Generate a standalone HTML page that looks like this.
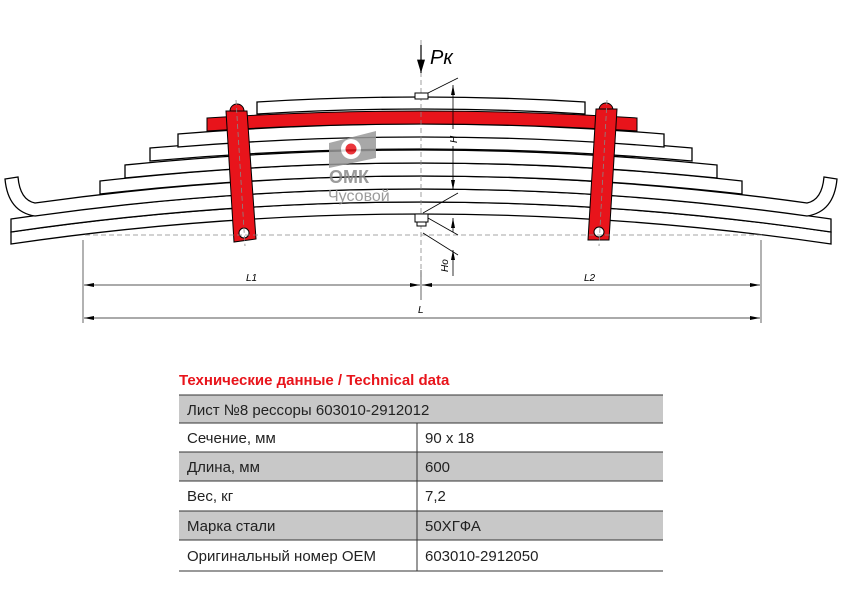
<!DOCTYPE html>
<html><head><meta charset="utf-8"><style>
html,body{margin:0;padding:0;background:#fff;width:842px;height:595px;overflow:hidden}
svg{position:absolute;left:0;top:0}
.t{font-family:"Liberation Sans",sans-serif}
</style></head><body>
<svg width="842" height="595" viewBox="0 0 842 595" xmlns="http://www.w3.org/2000/svg">
<defs>
<marker id="a" viewBox="0 0 10 4" refX="10" refY="2" markerWidth="10" markerHeight="4" markerUnits="userSpaceOnUse" orient="auto-start-reverse"><path d="M0,0 L10,2 L0,4 z" fill="#000"/></marker>
<marker id="b" viewBox="0 0 10 6" refX="10" refY="3" markerWidth="14" markerHeight="8" markerUnits="userSpaceOnUse" orient="auto"><path d="M0,0 L10,3 L0,6 z" fill="#000"/></marker>
</defs>
<g fill="#fff" stroke="#000" stroke-width="1.3">
<path d="M11,232 Q421,172 831,232 L831,244 Q421,184 11,244 Z"/>
<path d="M11,219 Q421,159 831,219 L831,232 Q421,172 11,232 Z"/>
<path d="M35,203 Q421,149 807,203 Q822,200 824,177 L837,179 Q834,212 807,216 Q421,162 35,216 Q8,212 5,179 L18,177 Q20,200 35,203 Z"/>
<path d="M100,181 Q421,145 742,181 L742,194 Q421,158 100,194 Z"/>
<path d="M125,165 Q421,135 717,165 L717,178 Q421,148 125,178 Z"/>
<path d="M150,148 Q421,124 692,148 L692,161 Q421,137 150,161 Z"/>
<path d="M178,134 Q421,114 664,134 L664,147 Q421,127 178,147 Z"/>
<path d="M257,102 Q421,92 585,102 L585,114 Q421,104 257,114 Z"/>
</g>
<path d="M207,118 Q421,104 637,118 L637,131 Q421,117 207,131 Z" fill="#e8141b" stroke="#000" stroke-width="1"/>
<g opacity="0.85">
<path d="M329,143 L376,131 L376,158 L329,168 Z" fill="#9a9a9a"/>
<circle cx="351" cy="149" r="10" fill="#fff"/>
<circle cx="351" cy="149" r="5.5" fill="#e8141b"/>
<text x="329" y="183" class="t" font-size="18" font-weight="bold" fill="#8a8a8a">ОМК</text>
<text x="328" y="201" class="t" font-size="16" fill="#8a8a8a">Чусовой</text>
</g>
<g stroke="#000" stroke-width="1">
<circle cx="237" cy="111" r="7" fill="#e8141b"/>
<path d="M226,111 L247,111 L256,239 L234,242 Z" fill="#e8141b"/>
<circle cx="244" cy="233" r="5" fill="#fff"/>
<circle cx="606" cy="110" r="7" fill="#e8141b"/>
<path d="M596,109 L617,109 L609,240 L588,240 Z" fill="#e8141b"/>
<circle cx="599" cy="232" r="5" fill="#fff"/>
</g>
<g stroke="#888" stroke-width="0.8" stroke-dasharray="5,3" fill="none">
<line x1="236" y1="100" x2="245" y2="246"/>
<line x1="607" y1="100" x2="599" y2="246"/>
<line x1="85" y1="235" x2="762" y2="235"/>
<line x1="421" y1="40" x2="421" y2="285"/>
</g>
<rect x="415" y="93" width="13" height="6" fill="#fff" stroke="#000"/>
<rect x="415" y="214" width="13" height="8" fill="#fff" stroke="#000"/>
<rect x="417" y="222" width="9" height="4" fill="#fff" stroke="#000"/>
<line x1="421" y1="45" x2="421" y2="73" stroke="#000" stroke-width="1.2" marker-end="url(#b)"/>
<text x="430" y="64" class="t" font-size="20" font-style="italic">Pк</text>
<g stroke="#000" stroke-width="0.8" fill="none">
<line x1="428" y1="93" x2="458" y2="78"/>
<line x1="423" y1="213" x2="458" y2="193"/>
<line x1="428" y1="218" x2="458" y2="235"/>
<line x1="423" y1="233" x2="458" y2="255"/>
<line x1="453" y1="85" x2="453" y2="129" marker-start="url(#a)"/>
<line x1="453" y1="146" x2="453" y2="190" marker-end="url(#a)"/>
<line x1="453" y1="218" x2="453" y2="232" marker-start="url(#a)"/>
<line x1="453" y1="250" x2="453" y2="276" marker-start="url(#a)"/>
</g>
<text transform="translate(457,143) rotate(-90)" class="t" font-size="10" font-style="italic">H</text>
<text transform="translate(448,272) rotate(-90)" class="t" font-size="10" font-style="italic">Hо</text>
<g stroke="#555" stroke-width="0.9" fill="none">
<line x1="83" y1="240" x2="83" y2="323"/>
<line x1="761" y1="240" x2="761" y2="323"/>
<line x1="421" y1="270" x2="421" y2="300"/>
<line x1="84" y1="285" x2="420" y2="285" marker-start="url(#a)" marker-end="url(#a)"/>
<line x1="422" y1="285" x2="760" y2="285" marker-start="url(#a)" marker-end="url(#a)"/>
<line x1="84" y1="318" x2="760" y2="318" marker-start="url(#a)" marker-end="url(#a)"/>
</g>
<text x="246" y="281" class="t" font-size="10" font-style="italic">L1</text>
<text x="584" y="281" class="t" font-size="10" font-style="italic">L2</text>
<text x="418" y="313" class="t" font-size="10" font-style="italic">L</text>
<text x="179" y="385" class="t" font-size="15" font-weight="bold" fill="#e8141b">Технические данные / Technical data</text>
<g fill="#c8c8c8">
<rect x="179" y="395" width="484" height="28"/>
<rect x="179" y="452" width="484" height="29"/>
<rect x="179" y="511" width="484" height="29"/>
</g>
<g stroke="#333" stroke-width="1">
<line x1="179" y1="395" x2="663" y2="395"/>
<line x1="179" y1="423" x2="663" y2="423"/>
<line x1="179" y1="452" x2="663" y2="452"/>
<line x1="179" y1="481" x2="663" y2="481"/>
<line x1="179" y1="511" x2="663" y2="511"/>
<line x1="179" y1="540" x2="663" y2="540"/>
<line x1="179" y1="571" x2="663" y2="571"/>
<line x1="417" y1="423" x2="417" y2="571"/>
</g>
<g class="t" font-size="15" fill="#222">
<text x="187" y="415">Лист №8 рессоры 603010-2912012</text>
<text x="187" y="443">Сечение, мм</text><text x="425" y="443">90 x 18</text>
<text x="187" y="472">Длина, мм</text><text x="425" y="472">600</text>
<text x="187" y="501">Вес, кг</text><text x="425" y="501">7,2</text>
<text x="187" y="531">Марка стали</text><text x="425" y="531">50ХГФА</text>
<text x="187" y="561">Оригинальный номер OEM</text><text x="425" y="561">603010-2912050</text>
</g>
</svg>
</body></html>
